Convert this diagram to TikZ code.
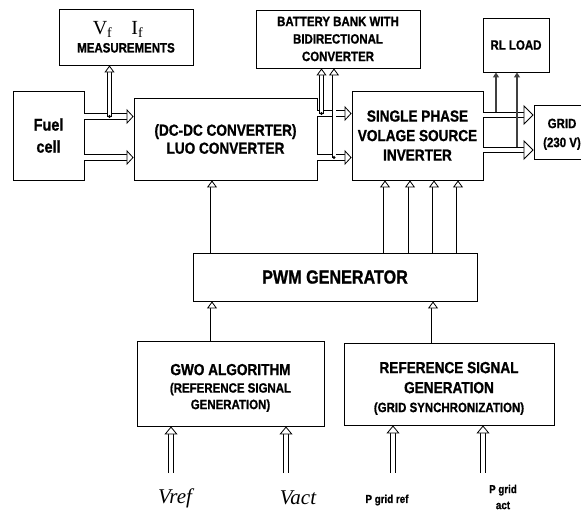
\documentclass[tikz,border=0pt]{standalone}
\usepackage{fontspec}
\setmainfont{Liberation Sans}[FakeStretch=0.85, BoldFeatures={FakeBold=1}]
\newfontfamily\serif{Liberation Serif}
\usetikzlibrary{arrows.meta}
\newcommand\fs[2]{\fontsize{#1}{#2}\selectfont}
\begin{document}
\begin{tikzpicture}[x=1pt,y=-1pt,
  box/.style={draw, line width=0.9pt, inner sep=0pt, align=center},
  harrow/.style={line width=0.8pt, double=white, double distance=4.5pt,
    -{Triangle[width=15pt, length=7pt, line width=0.8pt, fill=white]}},
  garrow/.style={line width=0.8pt, double=white, double distance=4.5pt,
    -{Triangle[width=20pt, length=10pt, line width=0.8pt, fill=white]}},
  varrow/.style={line width=0.8pt, double=white, double distance=3pt,
    -{Triangle[width=10pt, length=7pt, line width=0.8pt, fill=white]}},
  iarrow/.style={line width=0.8pt, double=white, double distance=3.5pt,
    -{Triangle[width=13pt, length=8pt, line width=0.8pt, fill=white]}},
  rlarrow/.style={line width=2.2pt, draw=black!75,
    -{Triangle[width=6pt, length=5pt]}},
  lbl/.style={inner sep=0pt, align=center}
]
\fill[white] (0,0) rectangle (581,512);
\useasboundingbox (0,0) rectangle (581,512);

% boxes
\node[box, minimum width=134pt, minimum height=56pt, font=\bfseries\fs{13.5}{15}] (meas) at (126,37)
  {{\serif\mdseries\fs{20}{22}V\textsubscript{f}\kern19pt I\textsubscript{f}\kern16pt}\\[3pt]MEASUREMENTS};
\node[box, minimum width=71pt, minimum height=89pt, font=\bfseries\fs{17}{22}] (fc) at (48.5,135.5)
  {Fuel\\cell};
\node[box, minimum width=183pt, minimum height=82pt, font=\bfseries\fs{16}{18}] (luo) at (225.5,139)
  {(DC-DC CONVERTER)\\LUO CONVERTER};
\node[box, minimum width=164pt, minimum height=58pt, font=\bfseries\fs{13.5}{17.5}] (bat) at (338,39)
  {BATTERY BANK WITH\\BIDIRECTIONAL\\CONVERTER};
\node[box, minimum width=131pt, minimum height=89pt, font=\bfseries\fs{16}{19.5}] (inv) at (417.5,135.5)
  {SINGLE PHASE\\VOLAGE SOURCE\\INVERTER};
\node[box, minimum width=66pt, minimum height=54pt, font=\bfseries\fs{13.5}{16}] (rl) at (516,45)
  {RL LOAD};
\node[box, minimum width=56pt, minimum height=54pt, font=\bfseries\fs{13.5}{19}] (grid) at (562,132)
  {\rule{0pt}{14pt}GRID\\(230 V)};
\node[box, minimum width=284pt, minimum height=48pt, font=\bfseries\fs{19}{22}] (pwm) at (335,277)
  {PWM GENERATOR};
\node[box, minimum width=187pt, minimum height=85pt, font=\bfseries\fs{13.5}{16.5}] (gwo) at (230.5,383.5)
  {\fs{16}{18}\rule{0pt}{20pt}GWO ALGORITHM\\[1pt](REFERENCE SIGNAL\\GENERATION)};
\node[box, minimum width=210pt, minimum height=82pt, font=\bfseries\fs{16}{20}] (ref) at (449,384)
  {\rule{0pt}{20pt}REFERENCE SIGNAL\\GENERATION\\[-1pt]\fs{13.5}{18}(GRID SYNCHRONIZATION)};

% input labels
\node[lbl, font=\serif\itshape\fs{21}{22}] (vref) at (175,498) {Vref};
\node[lbl, font=\serif\itshape\fs{21}{22}] (vact) at (298,498) {Vact};
\node[lbl, font=\bfseries\fs{11.5}{14}] (pgr) at (387,500) {P grid ref};
\node[lbl, font=\bfseries\fs{11.5}{16}] (pga) at (503,497) {P grid\\act};

% fuel cell -> luo
\draw[harrow] (fc.east |- 0,116.5) -- (luo.west |- 0,116.5);
\draw[harrow] (fc.east |- 0,157.5) -- (luo.west |- 0,157.5);
% measurement
\coordinate (j1) at (109.5,116.5);
\draw[varrow] (j1) -- (j1 |- meas.south);
\fill (j1) circle (1.6pt);

% luo -> inverter
\draw[harrow] (luo.east |- 0,113.5) -- (inv.west |- 0,113.5);
\draw[harrow] (luo.east |- 0,157.5) -- (inv.west |- 0,157.5);
\coordinate (j2) at (321.5,113.5);
\coordinate (j3) at (334,157.5);
\draw[varrow] (j2) -- (j2 |- bat.south);
\draw[varrow] (j3) -- (j3 |- bat.south);
\fill (j2) circle (1.6pt);
\fill (j3) circle (1.6pt);

% inverter -> grid
\draw[garrow] (inv.east |- 0,115) -- (grid.west |- 0,115);
\draw[garrow] (inv.east |- 0,150) -- (grid.west |- 0,150);
\coordinate (j4) at (496,112);
\coordinate (j5) at (517,147);
\draw[rlarrow] (j4) -- (j4 |- rl.south);
\draw[rlarrow] (j5) -- (j5 |- rl.south);

% pwm -> converters
\draw[varrow] (pwm.north -| 212,0) -- (luo.south -| 212,0);
\foreach \x in {385,410,434,458}
  \draw[varrow] (pwm.north -| \x,0) -- (inv.south -| \x,0);
% algorithms -> pwm
\draw[varrow] (gwo.north -| 212,0) -- (pwm.south -| 212,0);
\draw[varrow] (ref.north -| 433,0) -- (pwm.south -| 433,0);

% inputs
\coordinate (i1) at (171,473);
\coordinate (i2) at (286,473);
\coordinate (i3) at (393,473);
\coordinate (i4) at (483,473);
\draw[iarrow] (i1) -- (i1 |- gwo.south);
\draw[iarrow] (i2) -- (i2 |- gwo.south);
\draw[iarrow] (i3) -- (i3 |- ref.south);
\draw[iarrow] (i4) -- (i4 |- ref.south);
\end{tikzpicture}
\end{document}
